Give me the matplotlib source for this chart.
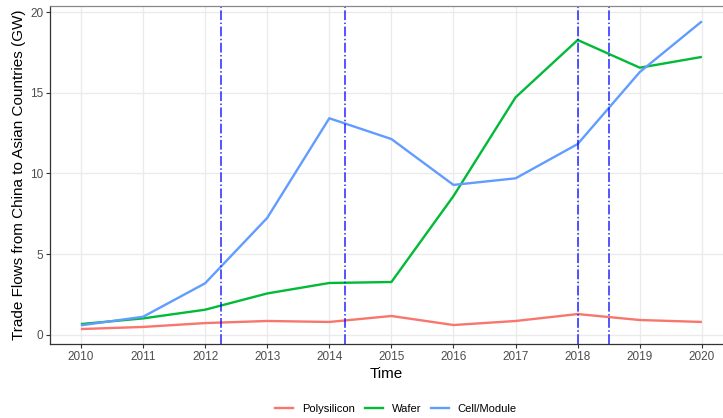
import matplotlib.pyplot as plt
from matplotlib.lines import Line2D

plt.rcParams['font.family'] = ['Liberation Sans', 'DejaVu Sans']

years = list(range(2010, 2021))
polysilicon = [0.34, 0.47, 0.71, 0.84, 0.78, 1.15, 0.59, 0.84, 1.27, 0.90, 0.78]
wafer = [0.65, 1.00, 1.54, 2.55, 3.20, 3.26, 8.60, 14.73, 18.29, 16.57, 17.24]
cell_module = [0.57, 1.10, 3.18, 7.24, 13.43, 12.14, 9.29, 9.70, 11.83, 16.30, 19.45]
series_names = ['Polysilicon', 'Wafer', 'Cell/Module']
colors = ['#F8766D', '#00BA38', '#619CFF']
vlines = [2012.25, 2014.25, 2018.0, 2018.5]

fig = plt.figure(figsize=(7.23, 4.18), dpi=100)
ax = fig.add_axes([0.0698, 0.177, 0.9302, 0.8086])

ax.set_axisbelow(True)
ax.grid(True, color='#ebebeb', linewidth=1.0)

for vals, c in zip([polysilicon, wafer, cell_module], colors):
    ax.plot(years, vals, color=c, linewidth=1.7, solid_capstyle='butt')

for v in vlines:
    ax.axvline(v, color='#0000ff', linestyle='-.', linewidth=1.1, alpha=0.85)

ax.set_xlim(2009.51, 2020.34)
ax.set_ylim(-0.59, 20.4)
ax.set_xticks(years)
ax.set_yticks([0, 5, 10, 15, 20])

for side in ['left', 'bottom']:
    ax.spines[side].set_color('#333333')
    ax.spines[side].set_linewidth(0.9)
ax.spines['top'].set_color('#888888')
ax.spines['top'].set_linewidth(0.9)
ax.spines['right'].set_visible(False)

ax.tick_params(axis='both', colors='#333333', labelcolor='#4d4d4d',
               labelsize=8.5, length=3, width=0.8, pad=2)

ax.set_xlabel('Time', fontsize=11, labelpad=3)
ax.set_ylabel('Trade Flows from China to Asian Countries (GW)', fontsize=11)
ax.yaxis.set_label_coords(-0.036, 0.5)

handles = [Line2D([0], [0], color=c, linewidth=1.7) for c in colors]
fig.legend(handles, series_names, loc='center', bbox_to_anchor=(0.548, 0.022),
           ncol=3, frameon=False, fontsize=8, handlelength=1.6,
           handletextpad=0.8, columnspacing=0.9)

fig.savefig('out.png', dpi=100)
